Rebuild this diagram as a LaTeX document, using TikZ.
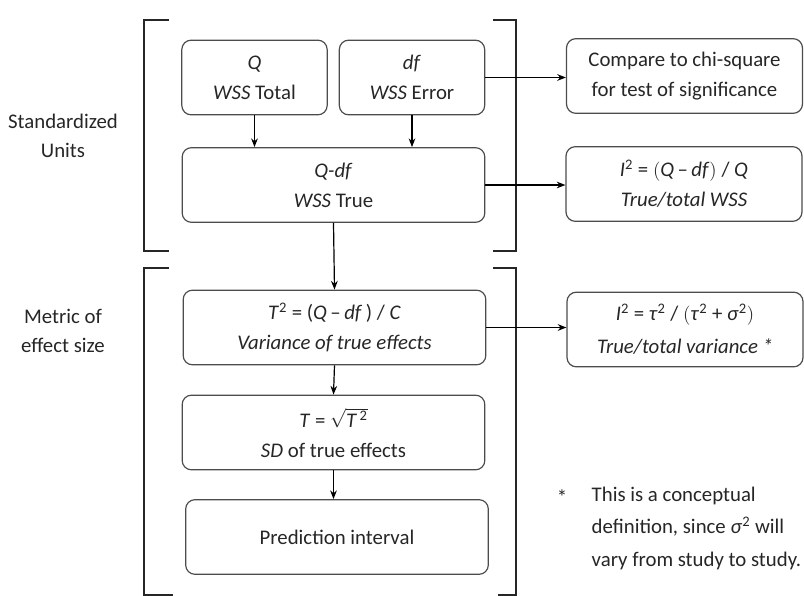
\documentclass[tikz,border=0pt]{standalone}
\usepackage{fontspec}
\setmainfont{Carlito}
\usetikzlibrary{arrows.meta}

\begin{document}
\begin{tikzpicture}[x=0.75pt,y=-0.75pt,
  box/.style={rectangle,rounded corners=7pt,draw=black!70,line width=0.9pt,align=center,
              minimum height=56pt,font=\fontsize{15.6}{22.5}\selectfont,text=black!85},
  small/.style={box,minimum width=109pt},
  wide/.style={box,minimum width=227pt},
  side/.style={box,minimum width=177pt},
  lbl/.style={align=center,font=\fontsize{15.6}{22}\selectfont,text=black!85},
  brk/.style={line width=1.1pt,draw=black!85},
  >={Stealth[length=6.5pt,width=5pt]}]

  \useasboundingbox (0,0) rectangle (804,596) ;

  % group labels
  \node[lbl] at ( 63, 136) (units)  {Standardized\\Units} ;
  \node[lbl] at ( 63, 331) (metric) {Metric of\\effect size} ;

  % brackets
  \draw[brk] (169,  20) -- (144,  20) -- (144, 251) -- (169, 251) ;
  \draw[brk] (493,  20) -- (516,  20) -- (516, 251) -- (493, 251) ;
  \draw[brk] (169, 268) -- (144, 268) -- (144, 595) -- (173, 595) ;
  \draw[brk] (493, 268) -- (516, 268) -- (516, 595) -- (498, 595) ;

  % main column
  \node[small] at (254.5,  77.5) (qtot)  {\textit{Q}\\\textit{WSS} Total} ;
  \node[small] at (412,    77.5) (dferr) {\textit{df}\\\textit{WSS} Error} ;
  \node[wide]  at (333.5, 185)   (qdf)   {\textit{Q-df}\\\textit{WSS} True} ;
  \node[wide]  at (334.5, 327.5) (tsq)   {\textit{T}\textsuperscript{2} = (\textit{Q}\,–\,\textit{df}\,) / \textit{C}\\\textit{Variance of true effects}} ;
  \node[wide]  at (333.5, 432.5) (tau)   {\textit{T} = $\sqrt{\mbox{\textit{T}\textsuperscript{\,2}}}$\\\textit{SD} of true effects} ;
  \node[wide]  at (337,   537)   (pred)  {Prediction interval} ;

  % results on the right
  \node[side] at (684.5,  76)    (chisq) {Compare to chi-square\\for test of significance} ;
  \node[side] at (684,   184)    (isq)   {\textit{I}\textsuperscript{2} = $\bigl($\textit{Q}\,–\,\textit{df}$\bigr)$ / \textit{Q}\\\textit{True/total WSS}} ;
  \node[side] at (685,   329.5)  (isqvar) {\textit{I}\textsuperscript{2} = \textit{τ}\textsuperscript{2} / $\Bigl($\textit{τ}\textsuperscript{2} + \textit{σ}\textsuperscript{2}$\Bigr)$\\[2pt]\textit{True/total variance *}} ;

  % footnote
  \node[lbl] at (562, 497) (star) {*} ;
  \node[lbl,anchor=west,align=left,font=\fontsize{15.6}{24.4}\selectfont] at (587, 528) (note)
    {This is a conceptual\\definition, since \textit{σ}\textsuperscript{2} will\\vary from study to study.} ;

  \draw[->,line width=0.9pt] (qtot.south)  -- (qtot.south |- qdf.north) ;
  \draw[->,line width=0.9pt] (dferr.south) -- (dferr.south |- qdf.north) ;
  \draw[->,line width=0.9pt] (qdf.south)   -- (tsq.north) ;
  \draw[->,line width=0.9pt] (tsq.south)   -- (tau.north) ;
  \draw[->,line width=0.9pt] (tau.south)   -- (tau.south |- pred.north) ;
  \draw[->,line width=0.9pt] (dferr.east)  -- (dferr.east -| chisq.west) ;
  \draw[->,line width=0.9pt] (qdf.east)    -- (qdf.east -| isq.west) ;
  \draw[->,line width=0.9pt] (tsq.east)    -- (tsq.east -| isqvar.west) ;

\end{tikzpicture}
\end{document}
